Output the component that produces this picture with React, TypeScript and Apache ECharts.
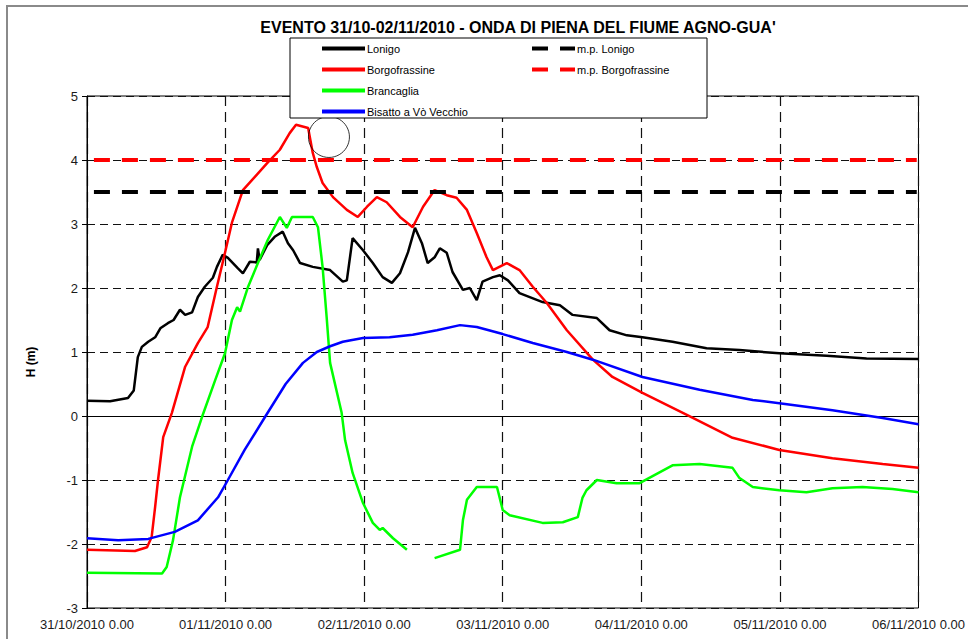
import React, { useEffect, useRef } from "react";
import * as echarts from "echarts";

const titleText = "EVENTO 31/10-02/11/2010 - ONDA DI PIENA DEL FIUME AGNO-GUA'";
const yAxisName = "H (m)";
const xTickLabels = [
  "31/10/2010 0.00",
  "01/11/2010 0.00",
  "02/11/2010 0.00",
  "03/11/2010 0.00",
  "04/11/2010 0.00",
  "05/11/2010 0.00",
  "06/11/2010 0.00",
];
const seriesNames = [
  "Lonigo",
  "Borgofrassine",
  "Brancaglia",
  "Bisatto a Vò Vecchio",
  "m.p. Lonigo",
  "m.p. Borgofrassine",
];

// [hours since 31/10/2010 0.00, H (m)]
const lonigo = [
  [0, 0.24], [4, 0.23], [7.1, 0.28], [8.1, 0.4], [8.8, 0.92], [9.5, 1.08], [10.6, 1.16],
  [11.8, 1.23], [12.7, 1.37], [14.0, 1.45], [15, 1.5], [16.1, 1.66], [17.0, 1.58],
  [18.2, 1.62], [19.2, 1.86], [20.4, 2.02], [21.8, 2.16], [22.5, 2.33], [23.5, 2.52],
  [24.4, 2.47], [26.1, 2.31], [27.0, 2.23], [28.2, 2.41], [29.4, 2.4], [29.6, 2.62],
  [29.9, 2.44], [31.2, 2.67], [32.5, 2.8], [33.9, 2.88], [34.8, 2.7], [35.7, 2.59],
  [36.9, 2.39], [39.1, 2.33], [42.1, 2.28], [44.3, 2.1], [45.0, 2.12], [46.0, 2.78],
  [47.8, 2.59], [49.5, 2.39], [51.2, 2.17], [52.8, 2.08], [54.2, 2.23], [55.6, 2.56],
  [56.8, 2.94], [58.0, 2.7], [59.0, 2.39], [60.2, 2.48], [61.1, 2.62], [62.3, 2.55],
  [63.3, 2.25], [65.1, 1.97], [66.3, 2.0], [67.5, 1.81], [68.5, 2.1], [70.3, 2.17],
  [71.5, 2.2], [72.9, 2.12], [74.9, 1.92], [78.9, 1.78], [81.9, 1.73], [84.1, 1.58],
  [88.3, 1.53], [90.5, 1.34], [93.5, 1.26], [96.2, 1.23], [101.4, 1.16], [107.3, 1.06],
  [113.0, 1.03], [119.9, 0.98], [128.1, 0.94], [135.0, 0.9], [144, 0.89],
];

const borgofrassine = [
  [0, -2.09], [8.3, -2.11], [10.4, -2.05], [11.2, -1.89], [11.8, -1.42], [12.3, -1.0],
  [13.2, -0.33], [14.7, 0.05], [17.0, 0.77], [19.2, 1.14], [20.9, 1.39], [22.5, 2.02],
  [23.9, 2.55], [25.1, 3.02], [27.0, 3.53], [31.2, 3.95], [33.4, 4.16], [35.1, 4.42],
  [36.2, 4.55], [37.5, 4.52], [38.3, 4.5], [39.1, 4.11], [39.8, 3.89], [40.8, 3.64],
  [42.6, 3.42], [45.0, 3.22], [46.9, 3.11], [48.5, 3.27], [50.2, 3.42], [51.9, 3.34],
  [54.2, 3.11], [56.4, 2.95], [58.2, 3.27], [60.2, 3.53], [62.3, 3.45], [64.0, 3.41],
  [65.8, 3.22], [67.5, 2.86], [69.2, 2.48], [70.3, 2.28], [72.7, 2.39], [74.9, 2.28],
  [77.2, 2.02], [79.6, 1.77], [83.1, 1.34], [87.6, 0.88], [91.0, 0.61], [96.2, 0.36],
  [103.8, 0.02], [111.8, -0.34], [119.9, -0.53], [129.1, -0.66], [137.8, -0.75], [144, -0.81],
];

const brancaglia = [
  [0, -2.45], [13.0, -2.46], [13.8, -2.36], [14.9, -1.94], [16.1, -1.27], [18.2, -0.48],
  [19.9, -0.02], [22.2, 0.56], [23.9, 0.98], [25.1, 1.5], [26.0, 1.7], [26.5, 1.63],
  [27.9, 2.02], [29.6, 2.39], [31.3, 2.75], [33.4, 3.11], [34.6, 2.94], [35.5, 3.11],
  [37.7, 3.11], [39.1, 3.11], [40.0, 2.95], [40.8, 2.33], [41.5, 1.55], [42.1, 0.83],
  [44.1, 0.05], [44.7, -0.38], [46.0, -0.89], [47.8, -1.36], [49.5, -1.67], [50.7, -1.78],
  [51.2, -1.75], [53.0, -1.91], [55.4, -2.09], [57.8, "-"], [60.2, -2.22], [64.6, -2.09],
  [65.1, -1.63], [65.8, -1.31], [67.5, -1.11], [71.0, -1.11], [72.0, -1.47], [73.2, -1.55],
  [78.9, -1.67], [82.4, -1.66], [85.0, -1.58], [85.8, -1.28], [86.5, -1.16], [88.3, -1.0],
  [91.7, -1.05], [95.7, -1.05], [101.4, -0.77], [106.1, -0.75], [111.8, -0.81],
  [113.0, -0.97], [115.3, -1.11], [119.9, -1.16], [124.6, -1.19], [129.1, -1.13],
  [134.3, -1.11], [139.5, -1.14], [144, -1.19],
];

const bisatto = [
  [0, -1.91], [5.4, -1.94], [10.6, -1.92], [15.2, -1.81], [19.2, -1.63], [22.7, -1.27],
  [24.4, -1.0], [27.3, -0.53], [30.8, -0.02], [34.4, 0.5], [37.4, 0.83], [39.8, 1.0],
  [42.1, 1.09], [44.3, 1.16], [47.8, 1.22], [52.4, 1.23], [56.4, 1.27], [60.6, 1.34],
  [64.6, 1.42], [67.5, 1.39], [72.0, 1.28], [77.2, 1.14], [83.1, 1.0], [87.6, 0.88],
  [96.2, 0.61], [106.1, 0.41], [115.3, 0.25], [119.9, 0.2], [129.1, 0.09], [137.8, -0.03],
  [144, -0.13],
];

const mpLonigo = [[1.2, 3.5], [143.7, 3.5]];
const mpBorgofrassine = [[1.2, 4.0], [143.7, 4.0]];
const highlightPoint = [[41.9, 4.36]];

export default function App() {
  const ref = useRef<HTMLDivElement>(null);
  useEffect(() => {
    if (!ref.current) return;
    const chart = echarts.init(ref.current, null, { renderer: "svg" });
    const font = "Arial, 'Liberation Sans', sans-serif";
    const lineSeries = (name: string, data: any[], color: string, width: number, type: any = "solid") => ({
      name,
      type: "line",
      data,
      symbol: "none",
      showSymbol: false,
      connectNulls: false,
      lineStyle: { color, width, type },
      itemStyle: { color, opacity: 0 },
      z: 3,
    });
    const legendBase = {
      show: true,
      orient: "vertical",
      top: 43,
      itemWidth: 43,
      itemHeight: 10,
      itemGap: 10,
      padding: 0,
      itemStyle: { opacity: 0 },
      lineStyle: { width: 4 },
      textStyle: { fontSize: 11, color: "#000", fontFamily: font, padding: [0, 0, 0, -3] },
      z: 10,
    };
    chart.setOption({
      animation: false,
      backgroundColor: "#fff",
      textStyle: { fontFamily: font },
      grid: {
        left: 87,
        top: 96,
        width: 832,
        height: 512,
        show: true,
        borderColor: "#000",
        borderWidth: 1,
        backgroundColor: "transparent",
      },
      xAxis: {
        type: "value",
        min: 0,
        max: 144,
        interval: 24,
        axisLine: { show: true, lineStyle: { color: "#000", width: 1 } },
        axisTick: { show: true, inside: false, length: 5, lineStyle: { color: "#000" } },
        axisLabel: {
          margin: 10,
          fontSize: 13,
          color: "#1a1a1a",
          fontFamily: font,
          formatter: (v: number) => xTickLabels[Math.round(v / 24)] ?? "",
        },
        splitLine: { show: true, lineStyle: { color: "#111", width: 1.2, type: [10, 6] } },
      },
      yAxis: {
        type: "value",
        min: -3,
        max: 5,
        interval: 1,
        axisLine: { show: true, onZero: false, lineStyle: { color: "#000", width: 1 } },
        axisTick: { show: true, inside: false, length: 5, lineStyle: { color: "#000" } },
        axisLabel: { margin: 9, fontSize: 13, color: "#1a1a1a", fontFamily: font },
        splitLine: { show: true, lineStyle: { color: "#111", width: 1, type: [8, 5] } },
      },
      legend: [
        { ...legendBase, left: 320, data: seriesNames.slice(0, 4) },
        { ...legendBase, left: 530, data: seriesNames.slice(4, 6) },
      ],
      graphic: [
        {
          type: "polyline",
          shape: { points: [[7, 639], [7, 6], [968, 6]] },
          style: { stroke: "#8a8a8a", lineWidth: 2, fill: "none" },
          silent: true,
          z: 1,
        },
        {
          type: "text",
          x: 518,
          y: 27,
          style: {
            text: titleText,
            fontSize: 16,
            fontWeight: "bold",
            fontFamily: font,
            fill: "#000",
            align: "center",
            verticalAlign: "middle",
          },
          z: 10,
        },
        {
          type: "text",
          x: 31,
          y: 362,
          rotation: Math.PI / 2,
          style: {
            text: yAxisName,
            fontSize: 12,
            fontWeight: "bold",
            fontFamily: font,
            fill: "#000",
            align: "center",
            verticalAlign: "middle",
          },
          z: 10,
        },
        {
          type: "rect",
          shape: { x: 290, y: 38, width: 417, height: 80 },
          style: { fill: "#fff", stroke: "#000", lineWidth: 1 },
          silent: true,
          z: 8,
        },
      ],
      series: [
        lineSeries(seriesNames[0], lonigo, "#000000", 2.5),
        lineSeries(seriesNames[1], borgofrassine, "#ff0000", 2.5),
        lineSeries(seriesNames[2], brancaglia, "#00ff00", 2.5),
        lineSeries(seriesNames[3], bisatto, "#0000ff", 2.5),
        lineSeries(seriesNames[4], mpLonigo, "#000000", 4, [16, 12]),
        lineSeries(seriesNames[5], mpBorgofrassine, "#ff0000", 4, [16, 12]),
        {
          name: "annotation",
          type: "scatter",
          data: highlightPoint,
          symbol: "circle",
          symbolSize: 41,
          silent: true,
          itemStyle: { color: "rgba(0,0,0,0)", borderColor: "#000", borderWidth: 1 },
          z: 5,
        },
      ],
    });
    return () => chart.dispose();
  }, []);
  return (
    <div
      ref={ref}
      style={{ position: "fixed", left: 0, top: 0, width: 968, height: 639, background: "#fff" }}
    />
  );
}
